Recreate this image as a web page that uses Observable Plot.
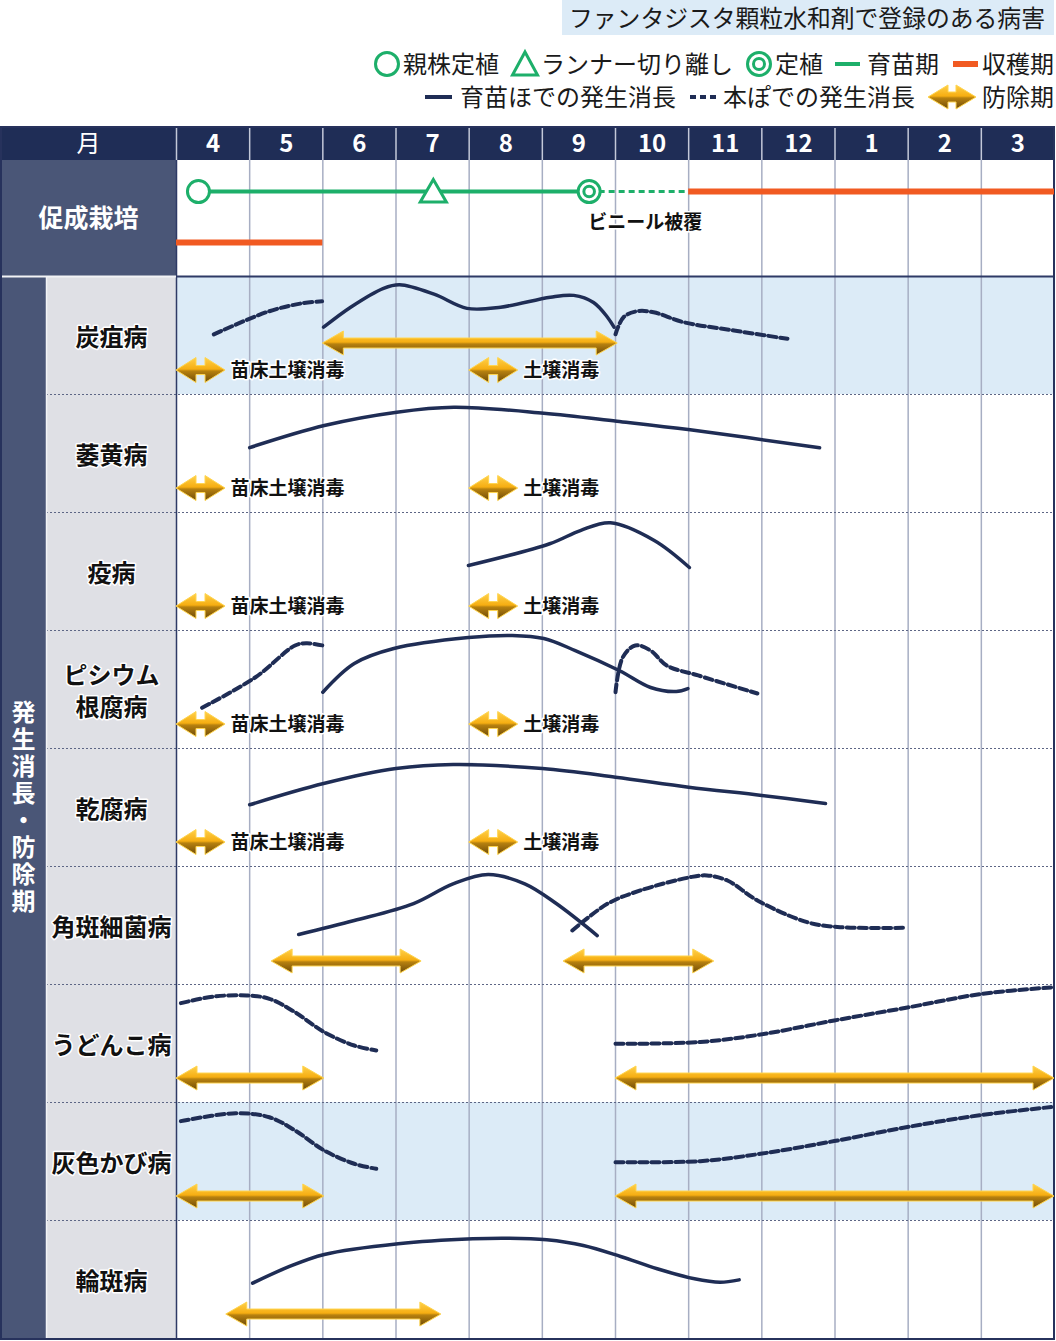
<!DOCTYPE html>
<html><head><meta charset="utf-8">
<script src="https://cdn.jsdelivr.net/npm/d3@7"></script>
<script src="https://cdn.jsdelivr.net/npm/@observablehq/plot@0.6"></script>
<style>
body{margin:0;background:#fff;font-family:"Noto Sans CJK JP","Noto Sans",sans-serif;}
#head{position:relative;width:1056px;height:126px;}
#head .t{position:absolute;font-size:24px;line-height:24px;white-space:nowrap;color:#1a1a1a;}
#head svg{position:absolute;overflow:visible;}
#title{position:absolute;left:562px;top:0;width:492px;height:35px;background:#DCEBF7;}
#title span{position:absolute;left:7px;top:5px;font-size:23.8px;line-height:24px;white-space:nowrap;color:#1a1a1a;}
.vlabel text{writing-mode:vertical-rl;letter-spacing:3px;}
</style></head><body>
<div id="head"></div>
<div id="chart"></div>
<script>
// ---------------- data ----------------
const titleText = "ファンタジスタ顆粒水和剤で登録のある病害";
const legendLine1 = ["親株定植", "ランナー切り離し", "定植", "育苗期", "収穫期"];
const legendLine2 = ["育苗ほでの発生消長", "本ぽでの発生消長", "防除期"];

const headerLabel = "月";
const months = ["4","5","6","7","8","9","10","11","12","1","2","3"];
const cultivationLabel = "促成栽培";
const sideLabel = "発生消長・防除期";
const diseases = ["炭疽病","萎黄病","疫病","ピシウム\n根腐病","乾腐病","角斑細菌病","うどんこ病","灰色かび病","輪斑病"];
const shadedRows = [0, 7];

// cultivation calendar (x = months since 1 April)
const parentPlanting = 0.30;
const runnerCut = 3.51;
const planting = 5.64;
const nurseryPeriod = [0.30, 5.64];
const vinylPeriod = [5.64, 7.0];
const harvestPeriodUpper = [7.0, 12.0];
const harvestPeriodLower = [0.0, 2.0];
const vinylLabel = "ビニール被覆";

// occurrence curves: [month, level 0-100]
const tansoFieldSpring = [[0.51,51],[1.24,70],[1.69,77],[1.99,79]];
const tansoNursery = [[2.01,57],[2.38,74],[2.83,90],[3.05,93],[3.52,85],[3.97,73],[4.43,74],[5.11,82.5],[5.43,84],[5.70,78],[5.89,65.5],[5.98,57]];
const tansoFieldAutumn = [[6.0,51],[6.11,65.5],[6.30,70.6],[6.52,69.7],[6.93,61.3],[7.62,54.2],[8.35,47.2]];
const ioubyouNursery = [[1.0,55],[2.02,73.7],[3.01,85],[3.79,89.2],[5.02,84.2],[6.02,77.4],[7.02,70.1],[8.79,54.8]];
const ekibyouNursery = [[3.99,55.1],[5.10,73.5],[5.52,84.7],[5.93,91.3],[6.53,76.3],[7.01,53.4]];
const pythiumFieldSpring = [[0.35,34.5],[1.08,60.4],[1.62,87.3],[1.78,89.2],[2.0,87.3]];
const pythiumNursery = [[2.0,47.7],[2.43,72],[2.97,84.7],[3.99,94],[4.59,95.8],[5.02,93.2],[5.45,83],[6.05,66.1],[6.48,51.7],[6.83,48.3],[6.99,50.8]];
const pythiumFieldAutumn = [[6.0,47.7],[6.10,77.4],[6.27,87.3],[6.48,83],[6.70,70.3],[7.13,61.9],[7.94,46.6]];
const kanpuNursery = [[1.0,52.3],[2.01,70.3],[3.0,83],[3.78,86.4],[5.0,83],[6.0,75.7],[7.0,67.2],[8.0,60.2],[8.87,53.4]];
const kakuhanNursery = [[1.67,42.4],[2.43,54.2],[3.24,68.6],[3.78,85.3],[4.26,93.2],[4.76,85.3],[5.19,68.6],[5.75,41.5]];
const kakuhanField = [[5.41,45.8],[5.89,68.4],[6.34,79.7],[7.02,90.9],[7.25,92.4],[7.53,88.1],[7.94,71.2],[8.62,52.8],[9.07,48.6],[9.96,48.1]];
const udonkoFieldSpring = [[0.06,84.2],[0.51,89.8],[0.96,90.7],[1.27,87.9],[1.62,76.5],[2.02,59.6],[2.43,48.3],[2.73,44.1]];
const udonkoFieldAutumn = [[6.0,49.7],[7.16,51.3],[7.98,57.6],[8.99,69.5],[9.99,80.5],[11.0,92],[12.0,97.7]];
const haiiroFieldSpring = [[0.06,84.2],[0.81,90.9],[1.27,87.5],[1.62,76.3],[2.02,59.3],[2.43,48.1],[2.73,43.8]];
const haiiroFieldAutumn = [[6.0,49.4],[7.16,50.3],[7.98,56.5],[8.99,67.3],[9.99,79.2],[11.0,89.4],[12.0,96.4]];
const rinpanNursery = [[1.04,46.9],[1.52,60.4],[2.02,71.2],[3.03,80.3],[4.05,84.5],[4.55,85],[5.06,83.6],[5.56,78.8],[6.07,69.5],[6.57,59.1],[7.08,50.6],[7.43,47.7],[7.69,49.7]];

// control periods
const controlRow   = [0, 5, 5, 6, 6, 7, 7, 8];
const controlFrom  = [2.0, 1.3, 5.29, 0.0, 6.0, 0.0, 6.0, 0.68];
const controlTo    = [6.03, 3.35, 7.35, 2.02, 12.0, 2.02, 12.0, 3.62];
const controlLevel = [43.2, 19.5, 19.5, 20.3, 20.3, 20.3, 20.3, 20.3];

// soil disinfection
const soilRow   = [0, 0, 1, 1, 2, 2, 3, 3, 4, 4];
const soilFrom  = [0.0, 4.0, 0.0, 4.0, 0.0, 4.0, 0.0, 4.0, 0.0, 4.0];
const soilLabel = ["苗床土壌消毒","土壌消毒","苗床土壌消毒","土壌消毒","苗床土壌消毒","土壌消毒","苗床土壌消毒","土壌消毒","苗床土壌消毒","土壌消毒"];
const soilSpan = 0.67;
const soilLevel = 20.3;

// ---------------- layout ----------------
const MPX = 878 / 12;           // px per month
const ROW = 118;                // px per disease row
const xLeft = -176 / MPX, xSplit = -130 / MPX, xRight = 12 + 2 / MPX;
const yTop = -150 / ROW, yHead = -149 / ROW, yCult = -116 / ROW, yBottom = 9 + 3 / ROW;
const rowY = (row, level) => row + 1 - level / 100;
const NAVY = "#1F2D55", GREEN = "#1DAF6A", ORANGE = "#F15A22";

function arrowPath(x1, x2, y, head, half, bar) {
  return `M${x1},${y}L${x1+head},${y-half}L${x1+head},${y-bar}L${x2-head},${y-bar}L${x2-head},${y-half}L${x2},${y}` +
         `L${x2-head},${y+half}L${x2-head},${y+bar}L${x1+head},${y+bar}L${x1+head},${y+half}Z`;
}
const gradStops = [[0,"#FFD04A"],[0.46,"#F6AE12"],[0.54,"#B7810F"],[1,"#6E4A08"]];
function gradientDef(sel, id) {
  const g = sel.append("defs").append("linearGradient").attr("id", id).attr("x1",0).attr("x2",0).attr("y1",0).attr("y2",1);
  for (const [o,c] of gradStops) g.append("stop").attr("offset", o).attr("stop-color", c);
}

// ---------------- header (title + legend) ----------------
const head = d3.select("#head");
head.append("div").attr("id","title").append("span").text(titleText);
function txt(s, left, cy) { head.append("div").attr("class","t").style("left", left+"px").style("top", (cy-13)+"px").text(s); }
function sym(left, cy, w, h) { return head.append("svg").attr("width", w).attr("height", h).style("left", left+"px").style("top", (cy - h/2)+"px"); }
let s;
s = sym(373, 64, 28, 28); s.append("circle").attr("cx",14).attr("cy",14).attr("r",11.5).attr("fill","none").attr("stroke",GREEN).attr("stroke-width",3);
txt(legendLine1[0], 403, 64);
s = sym(511, 64, 28, 28); s.append("polygon").attr("points","14,2 26.5,25 1.5,25").attr("fill","none").attr("stroke",GREEN).attr("stroke-width",3).attr("stroke-linejoin","miter");
txt(legendLine1[1], 541, 64);
s = sym(745, 64, 28, 28); s.append("circle").attr("cx",14).attr("cy",14).attr("r",11.5).attr("fill","none").attr("stroke",GREEN).attr("stroke-width",3);
s.append("circle").attr("cx",14).attr("cy",14).attr("r",5.5).attr("fill","none").attr("stroke",GREEN).attr("stroke-width",3);
txt(legendLine1[2], 775, 64);
s = sym(835, 64, 25, 4); s.append("rect").attr("width",25).attr("height",4).attr("fill",GREEN);
txt(legendLine1[3], 867, 64);
s = sym(953, 64, 25, 6); s.append("rect").attr("width",25).attr("height",6).attr("fill",ORANGE);
txt(legendLine1[4], 982, 64);
s = sym(425, 97, 27, 4); s.append("rect").attr("width",27).attr("height",4).attr("fill",NAVY);
txt(legendLine2[0], 460, 97);
s = sym(690, 97, 26, 4); s.append("line").attr("x1",0).attr("x2",26).attr("y1",2).attr("y2",2).attr("stroke",NAVY).attr("stroke-width",4).attr("stroke-dasharray","6,4");
txt(legendLine2[1], 723, 97);
s = sym(927, 97, 50, 28); gradientDef(s, "goldL");
s.append("path").attr("d", arrowPath(1, 49, 14, 20, 12, 5)).attr("fill","url(#goldL)").attr("stroke","#FFD54F").attr("stroke-width",1);
txt(legendLine2[2], 982, 97);

// ---------------- derived tables ----------------
const curves = [
  {row:0, kind:"field", pts:tansoFieldSpring}, {row:0, kind:"nursery", pts:tansoNursery}, {row:0, kind:"field", pts:tansoFieldAutumn},
  {row:1, kind:"nursery", pts:ioubyouNursery},
  {row:2, kind:"nursery", pts:ekibyouNursery},
  {row:3, kind:"field", pts:pythiumFieldSpring}, {row:3, kind:"nursery", pts:pythiumNursery}, {row:3, kind:"field", pts:pythiumFieldAutumn},
  {row:4, kind:"nursery", pts:kanpuNursery},
  {row:5, kind:"nursery", pts:kakuhanNursery}, {row:5, kind:"field", pts:kakuhanField},
  {row:6, kind:"field", pts:udonkoFieldSpring}, {row:6, kind:"field", pts:udonkoFieldAutumn},
  {row:7, kind:"field", pts:haiiroFieldSpring}, {row:7, kind:"field", pts:haiiroFieldAutumn},
  {row:8, kind:"nursery", pts:rinpanNursery}
];
const curvePts = curves.flatMap((c, k) => c.pts.map(([m, lv]) => ({id:k, kind:c.kind, m, y:rowY(c.row, lv)})));
const controls = controlRow.map((r, i) => ({from:controlFrom[i], to:controlTo[i], y:rowY(r, controlLevel[i])}));
const soils = soilRow.map((r, i) => ({from:soilFrom[i], to:soilFrom[i] + soilSpan, y:rowY(r, soilLevel), label:soilLabel[i]}));
const rows = diseases.map((d, i) => ({name:d, i}));

function goldArrows(items, head, half, bar) {
  return (index, scales) => {
    const g = d3.create("svg:g");
    gradientDef(g, "goldP");
    for (const a of items) {
      g.append("path").attr("d", arrowPath(scales.x(a.from), scales.x(a.to), scales.y(a.y), head, half, bar))
        .attr("fill","url(#goldP)").attr("stroke","#FFD54F").attr("stroke-width",1).attr("stroke-linejoin","round");
    }
    return g.node();
  };
}

const chart = Plot.plot({
  width: 1056, height: 1215, margin: 0,
  x: {type:"linear", domain:[xLeft, xRight], range:[0, 1056], axis:null},
  y: {type:"linear", domain:[yTop, yBottom], range:[0, 1215], axis:null},
  style: {fontFamily:'"Noto Sans CJK JP","Noto Sans",sans-serif', background:"#fff", overflow:"visible"},
  marks: [
    // backgrounds
    Plot.rect([0], {x1:xLeft, x2:12, y1:yHead, y2:yCult, fill:"#1F2D56"}),
    Plot.rect([0], {x1:xLeft, x2:0, y1:yCult, y2:0, fill:"#4A5677"}),
    Plot.rect([0], {x1:xLeft, x2:xSplit, y1:0, y2:9, fill:"#4A5677"}),
    Plot.rect([0], {x1:xSplit, x2:0, y1:0, y2:9, fill:"#DFE0E5"}),
    Plot.rect(shadedRows, {x1:0, x2:12, y1:d=>d, y2:d=>d+1, fill:"#DCEBF7"}),
    // grid
    Plot.ruleX(d3.range(1, 12), {y1:yCult, y2:9, stroke:"#A7AEC3", strokeWidth:1.5}),
    Plot.ruleX(d3.range(0, 12), {y1:yHead, y2:yCult, stroke:"#C3C8D8", strokeWidth:1.5}),
    Plot.ruleY(d3.range(1, 9), {x1:xSplit, x2:12, stroke:"#5D6685", strokeWidth:1, strokeDasharray:"2,2"}),
    Plot.ruleX([0], {y1:yCult, y2:9, stroke:"#2E3A66", strokeWidth:1.5}),
    Plot.ruleX([xSplit], {y1:0, y2:9, stroke:"#F2F3F6", strokeWidth:1.5}),
    Plot.ruleY([0], {x1:xLeft, x2:0, stroke:"#F2F3F6", strokeWidth:2}),
    Plot.ruleY([0], {x1:0, x2:12, stroke:"#2E3A66", strokeWidth:2}),
    Plot.rect([0], {x1:xLeft + 1/MPX, x2:12, y1:yHead, y2:9 + 1/ROW, fill:"none", stroke:"#27325C", strokeWidth:2}),
    // header texts
    Plot.text([headerLabel], {x:(xLeft)/2, y:(yHead + yCult)/2, text:d=>d, fill:"white", fontSize:24}),
    Plot.text(months, {x:(d,i)=>i+0.5, y:(yHead + yCult)/2, text:d=>d, fill:"white", fontSize:24, fontWeight:"bold"}),
    Plot.text([cultivationLabel], {x:xLeft/2, y:rowY(-1, 49), text:d=>d, fill:"white", fontSize:25, fontWeight:"bold"}),
    Plot.text([sideLabel], {x:(xLeft + xSplit)/2, y:4.5, text:d=>d, lineAnchor:"bottom", className:"vlabel", fill:"white", fontSize:24, fontWeight:"bold"}),
    Plot.text(rows, {x:xSplit/2, y:d=>d.i + 0.5, text:"name", fill:"#111", stroke:"white", strokeWidth:3, fontSize:24, fontWeight:"bold", lineHeight:1.33}),
    // cultivation calendar
    Plot.ruleY([0], {x1:nurseryPeriod[0], x2:nurseryPeriod[1], y:rowY(-1, 72), stroke:GREEN, strokeWidth:4}),
    Plot.ruleY([0], {x1:vinylPeriod[0], x2:vinylPeriod[1], y:rowY(-1, 72), stroke:GREEN, strokeWidth:3, strokeDasharray:"6,4"}),
    Plot.ruleY([0], {x1:harvestPeriodUpper[0], x2:harvestPeriodUpper[1], y:rowY(-1, 72), stroke:ORANGE, strokeWidth:6}),
    Plot.ruleY([0], {x1:harvestPeriodLower[0], x2:harvestPeriodLower[1], y:rowY(-1, 28.8), stroke:ORANGE, strokeWidth:6}),
    Plot.dot([parentPlanting], {x:d=>d, y:rowY(-1, 72), r:11, fill:"white", stroke:GREEN, strokeWidth:3}),
    Plot.dot([runnerCut], {x:d=>d, y:rowY(-1, 72), symbol:"triangle", r:9.7, dy:3, fill:"white", stroke:GREEN, strokeWidth:3}),
    Plot.dot([planting], {x:d=>d, y:rowY(-1, 72), r:11, fill:"white", stroke:GREEN, strokeWidth:3}),
    Plot.dot([planting], {x:d=>d, y:rowY(-1, 72), r:5.3, fill:"white", stroke:GREEN, strokeWidth:3}),
    Plot.text([vinylLabel], {x:planting, y:rowY(-1, 45.8), text:d=>d, textAnchor:"start", dx:-1, fontSize:19, fontWeight:"bold", fill:"#111", stroke:"white", strokeWidth:3}),
    // occurrence curves
    Plot.line(curvePts.filter(d=>d.kind==="nursery"), {x:"m", y:"y", z:"id", curve:"catmull-rom", stroke:NAVY, strokeWidth:3.5, strokeLinecap:"round"}),
    Plot.line(curvePts.filter(d=>d.kind==="field"), {x:"m", y:"y", z:"id", curve:"catmull-rom", stroke:NAVY, strokeWidth:4, strokeDasharray:"8,4"}),
    // control arrows
    goldArrows(controls, 21, 12, 5),
    goldArrows(soils, 20, 12.5, 4.5),
    Plot.text(soils, {x:"to", y:"y", text:"label", textAnchor:"start", dx:5, fontSize:19, fontWeight:"bold", fill:"#111", stroke:"white", strokeWidth:3})
  ]
});
document.getElementById("chart").appendChild(chart);
</script>
</body></html>
